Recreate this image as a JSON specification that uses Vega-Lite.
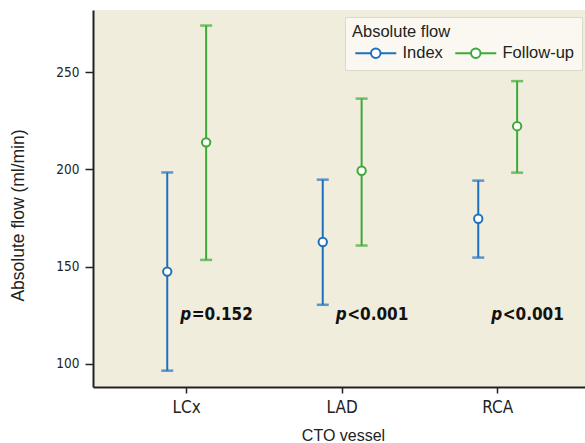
{
  "$schema": "https://vega.github.io/schema/vega-lite/v6.json",
  "width": 492,
  "height": 377,
  "autosize": "none",
  "padding": {"left": 93, "top": 10, "right": 0, "bottom": 56},
  "background": "white",
  "config": {
    "view": {"fill": "#F1EDDC", "stroke": null},
    "font": "Liberation Sans"
  },
  "datasets": {
    "flow": [
      {"vessel": "LCx", "group": "Index", "mean": 147.4, "lo": 96.4, "hi": 198.4},
      {"vessel": "LCx", "group": "Follow-up", "mean": 213.9, "lo": 153.4, "hi": 274.0},
      {"vessel": "LAD", "group": "Index", "mean": 162.6, "lo": 130.3, "hi": 194.7},
      {"vessel": "LAD", "group": "Follow-up", "mean": 199.3, "lo": 160.8, "hi": 236.4},
      {"vessel": "RCA", "group": "Index", "mean": 174.6, "lo": 154.6, "hi": 194.2},
      {"vessel": "RCA", "group": "Follow-up", "mean": 222.2, "lo": 198.3, "hi": 245.4}
    ],
    "pvals": [
      {"vessel": "LCx", "p": "p", "rest": "=0.152"},
      {"vessel": "LAD", "p": "p", "rest": "<0.001"},
      {"vessel": "RCA", "p": "p", "rest": "<0.001"}
    ]
  },
  "layer": [
    {
      "data": {"name": "flow"},
      "mark": {"type": "rule", "strokeWidth": 2},
      "encoding": {
        "x": {"field": "vessel", "type": "nominal", "sort": ["LCx", "LAD", "RCA"],
          "scale": {"paddingInner": 0, "paddingOuter": 0.082, "align": 0.625},
          "axis": {"title": "CTO vessel", "labelAngle": 0, "tickSize": 6, "labelPadding": 6,
            "labelFont": "DejaVu Sans Condensed", "labelFontSize": 17, "labelColor": "#222",
            "titleFont": "Liberation Sans", "titleFontSize": 16, "titleFontWeight": "normal", "titleColor": "#222",
            "titleX": 250, "titleY": 53.5, "titleBaseline": "alphabetic",
            "domainColor": "#222", "domainWidth": 2, "tickColor": "#222", "tickWidth": 1.5, "grid": false}},
        "xOffset": {"field": "group", "type": "nominal", "sort": ["Index", "Follow-up"],
          "scale": {"paddingInner": 0, "paddingOuter": 1.107}},
        "y": {"field": "lo", "type": "quantitative",
          "scale": {"domain": [88, 282], "nice": false, "zero": false},
          "axis": {"title": "Absolute flow (ml/min)", "values": [100, 150, 200, 250], "grid": false,
            "tickSize": 8, "labelPadding": 6, "labelFont": "DejaVu Sans Condensed", "labelFontSize": 13.5,
            "labelColor": "#222", "titleFont": "Liberation Sans", "titleFontSize": 17.5,
            "titleFontWeight": "normal", "titleColor": "#222", "titleX": -75, "titleY": 205,
            "titleBaseline": "middle", "domainColor": "#222", "domainWidth": 2,
            "tickColor": "#222", "tickWidth": 1.5}},
        "y2": {"field": "hi"},
        "stroke": {"field": "group", "type": "nominal",
          "scale": {"domain": ["Follow-up", "Index"], "range": ["#3DAA38", "#1F6FBF"]},
          "legend": null}
      }
    },
    {
      "data": {"name": "flow"},
      "mark": {"type": "tick", "size": 12, "thickness": 2.5},
      "encoding": {
        "x": {"field": "vessel", "type": "nominal", "sort": ["LCx", "LAD", "RCA"]},
        "xOffset": {"field": "group", "type": "nominal", "sort": ["Index", "Follow-up"]},
        "y": {"field": "lo", "type": "quantitative"},
        "fill": {"field": "group", "type": "nominal",
          "scale": {"domain": ["Follow-up", "Index", " "], "range": ["#3DAA38", "#1F6FBF", "#000000"]}, "legend": null}
      }
    },
    {
      "data": {"name": "flow"},
      "mark": {"type": "tick", "size": 12, "thickness": 2.5},
      "encoding": {
        "x": {"field": "vessel", "type": "nominal", "sort": ["LCx", "LAD", "RCA"]},
        "xOffset": {"field": "group", "type": "nominal", "sort": ["Index", "Follow-up"]},
        "y": {"field": "hi", "type": "quantitative"},
        "fill": {"field": "group", "type": "nominal", "legend": null}
      }
    },
    {
      "data": {"name": "flow"},
      "mark": {"type": "point", "filled": false, "fill": "white", "size": 70, "strokeWidth": 2, "opacity": 1},
      "encoding": {
        "x": {"field": "vessel", "type": "nominal", "sort": ["LCx", "LAD", "RCA"]},
        "xOffset": {"field": "group", "type": "nominal", "sort": ["Index", "Follow-up"]},
        "y": {"field": "mean", "type": "quantitative"},
        "color": {"field": "group", "type": "nominal",
          "scale": {"domain": ["Index", "Follow-up"], "range": ["#1F6FBF", "#3DAA38"]},
          "legend": {"title": "Absolute flow", "orient": "none", "legendX": 252, "legendY": 7,
            "direction": "horizontal", "titleFont": "Liberation Sans", "titleFontSize": 16.5,
            "titleFontWeight": "normal", "titleColor": "#222", "labelFont": "Liberation Sans",
            "labelFontSize": 16.5, "labelColor": "#222",
            "symbolType": "M-1,0H2.15M4.05,0H7.2M4.05,0A0.95,0.95,0,1,1,2.15,0A0.95,0.95,0,1,1,4.05,0Z",
            "symbolSize": 100, "symbolStrokeWidth": 2, "symbolFillColor": "white",
            "labelOffset": 34, "columnPadding": 8, "fillColor": "#FAF8F1", "strokeColor": "#DDD8C6",
            "padding": 7, "titlePadding": 4}}
      }
    },
    {
      "data": {"name": "pvals"},
      "mark": {"type": "text", "align": "right", "baseline": "alphabetic", "dx": 4.5,
        "font": "DejaVu Sans Condensed", "fontSize": 17, "fontWeight": "bold", "fontStyle": "italic", "color": "#111"},
      "encoding": {
        "x": {"field": "vessel", "type": "nominal", "sort": ["LCx", "LAD", "RCA"]},
        "y": {"datum": 122.3},
        "text": {"field": "p"}
      }
    },
    {
      "data": {"name": "pvals"},
      "mark": {"type": "text", "align": "left", "baseline": "alphabetic", "dx": 5,
        "font": "DejaVu Sans Condensed", "fontSize": 17, "fontWeight": "bold", "color": "#111"},
      "encoding": {
        "x": {"field": "vessel", "type": "nominal", "sort": ["LCx", "LAD", "RCA"]},
        "y": {"datum": 122.3},
        "text": {"field": "rest"}
      }
    }
  ]
}
